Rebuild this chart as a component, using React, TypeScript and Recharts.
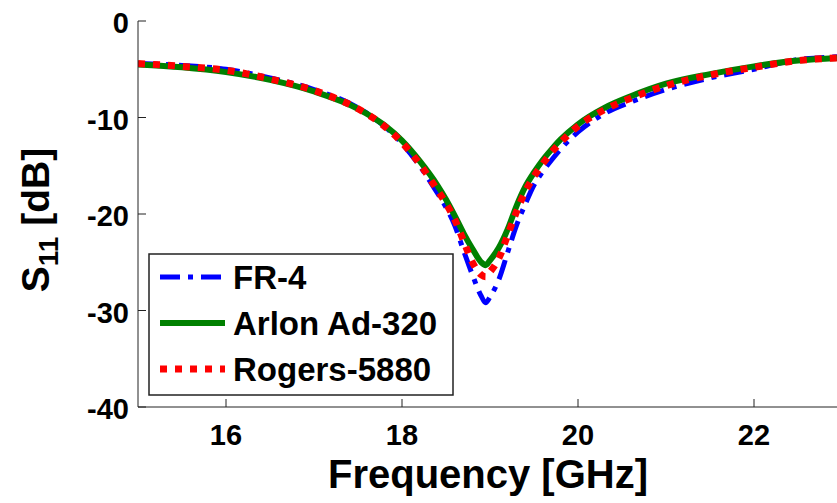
import React from 'react';
import { Legend, Line, LineChart, XAxis, YAxis } from 'recharts';

const FREQ = [15, 15.5, 16, 16.5, 17, 17.5, 17.8, 18, 18.2, 18.4, 18.5, 18.6, 18.7, 18.8, 18.9, 18.95, 19, 19.1, 19.2, 19.3, 19.4, 19.5, 19.6, 19.7, 19.8, 20, 20.3, 20.6, 21, 21.5, 22, 22.5, 23];
const FR4 = [-4.4, -4.6, -5.0, -5.9, -7.1, -9.0, -10.9, -12.7, -15.0, -17.8, -19.3, -21.2, -23.8, -26.3, -28.5, -29.2, -28.6, -26.8, -24.0, -21.2, -19.0, -17.0, -15.6, -14.4, -13.3, -11.5, -9.6, -8.4, -7.1, -5.9, -5.0, -4.0, -3.7];
const ARLON = [-4.5, -4.8, -5.3, -6.1, -7.3, -9.1, -10.8, -12.4, -14.5, -17.0, -18.5, -20.2, -22.0, -23.6, -25.0, -25.3, -24.8, -23.5, -21.6, -19.2, -17.2, -15.7, -14.4, -13.3, -12.3, -10.7, -9.0, -7.8, -6.5, -5.5, -4.7, -4.1, -3.8];
const ROGERS = [-4.4, -4.7, -5.1, -6.0, -7.2, -9.1, -10.9, -12.6, -14.8, -17.5, -18.9, -20.6, -22.8, -25.0, -26.3, -26.5, -26.0, -24.6, -22.2, -19.8, -17.7, -16.1, -14.8, -13.6, -12.6, -10.9, -9.2, -8.0, -6.7, -5.6, -4.8, -4.1, -3.8];

const X_TICKS = [16, 18, 20, 22];
const Y_TICKS = [0, -10, -20, -30, -40];

const SERIES = [
  { key: 'fr4', name: 'FR-4', color: '#0000ff', width: 5, dash: '20 8 5 8' },
  { key: 'arlon', name: 'Arlon Ad-320', color: '#008000', width: 6, dash: undefined },
  { key: 'rogers', name: 'Rogers-5880', color: '#ff0000', width: 7, dash: '7 8' },
];

const data = FREQ.map((f, i) => ({ f, fr4: FR4[i], arlon: ARLON[i], rogers: ROGERS[i] }));

const FONT = '"Liberation Sans", Arial, sans-serif';
const TICK_LEN = 8;

const BottomTick = ({ x, y, payload }: any) => (
  <g>
    <line x1={x} x2={x} y1={y} y2={y - TICK_LEN} stroke="#222" />
    <text x={x} y={y + 38} textAnchor="middle" fontFamily={FONT} fontWeight="bold" fontSize={29} fill="#000">
      {payload.value}
    </text>
  </g>
);

const TopTick = ({ x, y }: any) => <line x1={x} x2={x} y1={y} y2={y + TICK_LEN} stroke="#222" />;

const LeftTick = ({ x, y, payload }: any) => (
  <g>
    <line x1={x} x2={x + TICK_LEN} y1={y} y2={y} stroke="#222" />
    <text x={x - 9} y={y + 12} textAnchor="end" fontFamily={FONT} fontWeight="bold" fontSize={29} fill="#000">
      {payload.value}
    </text>
  </g>
);

const RightTick = ({ x, y }: any) => <line x1={x} x2={x - TICK_LEN} y1={y} y2={y} stroke="#222" />;

function LegendBox() {
  return (
    <svg width={306} height={143} style={{ display: 'block' }}>
      <rect x={1} y={1} width={304} height={141} fill="#fff" stroke="#222" strokeWidth={1.5} />
      {SERIES.map((s, i) => {
        const cy = 24 + i * 46;
        return (
          <g key={s.key}>
            <line x1={12} x2={77} y1={cy} y2={cy} stroke={s.color} strokeWidth={s.width} strokeDasharray={s.dash} />
            <text x={85} y={cy + 12} fontFamily={FONT} fontWeight="bold" fontSize={33} fill="#000">
              {s.name}
            </text>
          </g>
        );
      })}
    </svg>
  );
}

const YLabel = () => (
  <text transform="rotate(-90)" x={-220} y={49} textAnchor="middle" fontFamily={FONT} fontWeight="bold" fontSize={39} fill="#000">
    S<tspan fontSize={28} dy={9}>11</tspan>
    <tspan dy={-9}> [dB]</tspan>
  </text>
);

const XLabel = () => (
  <text x={488} y={488} textAnchor="middle" fontFamily={FONT} fontWeight="bold" fontSize={40} fill="#000">
    Frequency [GHz]
  </text>
);

export default function App() {
  return (
    <div style={{ position: 'fixed', left: 0, top: 0, width: 837, height: 503, overflow: 'hidden', background: '#fff' }}>
      <LineChart width={850} height={503} data={data} margin={{ top: 21, right: 8, bottom: 0, left: 0 }}>
        <XAxis
          dataKey="f"
          type="number"
          domain={[15, 23]}
          ticks={X_TICKS}
          allowDataOverflow
          height={96}
          tickSize={0}
          tickMargin={0}
          tickLine={false}
          axisLine={{ stroke: '#222' }}
          tick={<BottomTick />}
          label={<XLabel />}
        />
        <XAxis
          xAxisId="top"
          orientation="top"
          dataKey="f"
          type="number"
          domain={[15, 23]}
          ticks={X_TICKS}
          height={0}
          tickSize={0}
          tickMargin={0}
          tickLine={false}
          axisLine={{ stroke: '#222' }}
          tick={<TopTick />}
        />
        <YAxis
          type="number"
          domain={[-40, 0]}
          ticks={Y_TICKS}
          allowDataOverflow
          width={138}
          tickSize={0}
          tickMargin={0}
          tickLine={false}
          axisLine={{ stroke: '#222' }}
          tick={<LeftTick />}
          label={<YLabel />}
        />
        <YAxis
          yAxisId="right"
          orientation="right"
          type="number"
          domain={[-40, 0]}
          ticks={Y_TICKS}
          width={0}
          tickSize={0}
          tickMargin={0}
          tickLine={false}
          axisLine={{ stroke: '#222' }}
          tick={<RightTick />}
        />
        {SERIES.map((s) => (
          <Line
            key={s.key}
            dataKey={s.key}
            name={s.name}
            type="monotone"
            stroke={s.color}
            strokeWidth={s.width}
            strokeDasharray={s.dash}
            dot={false}
            activeDot={false}
            isAnimationActive={false}
          />
        ))}
        <Legend
          layout="vertical"
          align="center"
          verticalAlign="middle"
          wrapperStyle={{ position: 'absolute', left: 148, top: 253, width: 306, height: 143 }}
          content={<LegendBox />}
        />
      </LineChart>
    </div>
  );
}
